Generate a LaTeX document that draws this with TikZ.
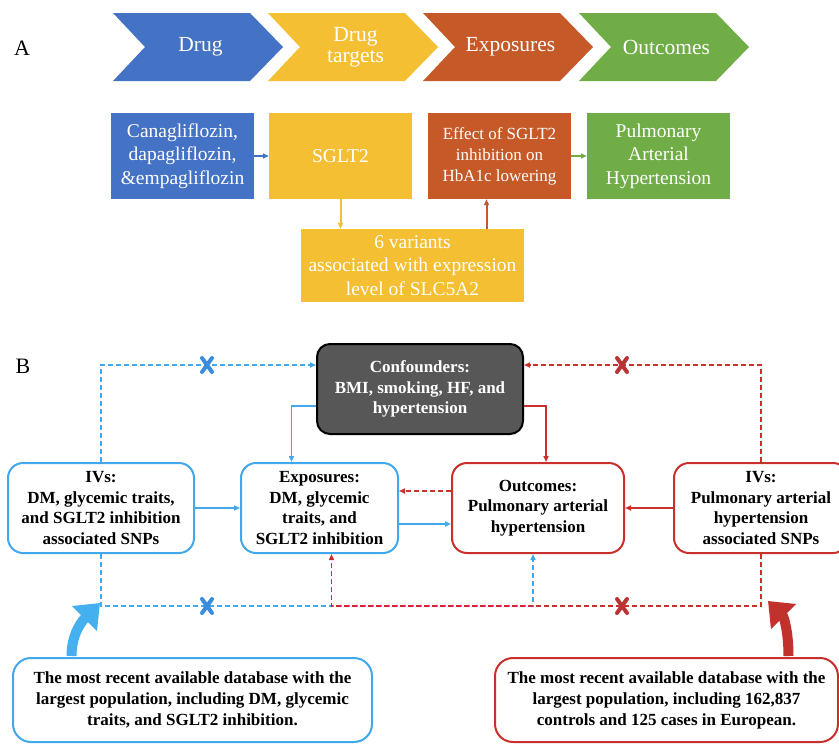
\documentclass[tikz,border=0pt]{standalone}
\usepackage{fontspec}
\setmainfont{Liberation Serif}
\usetikzlibrary{arrows.meta,positioning}
\definecolor{dblue}{HTML}{4472C4}
\definecolor{dyellow}{HTML}{F5BF33}
\definecolor{dorange}{HTML}{C55A28}
\definecolor{dgreen}{HTML}{70AD47}
\definecolor{lblue}{HTML}{41A8EC}
\definecolor{lred}{HTML}{C9302C}
\definecolor{xblue}{HTML}{3B8CDB}
\definecolor{xred}{HTML}{B93535}
\definecolor{cgray}{HTML}{575757}
\definecolor{bigblue}{HTML}{45B0EF}
\definecolor{bigred}{HTML}{C0322B}
\tikzset{
  abox/.style={minimum width=143pt, minimum height=86pt, inner sep=0pt, align=center, text=white,
    font=\fontsize{19.5}{23.5}\selectfont},
  bbox/.style={draw=#1, line width=2pt, rounded corners=15pt, fill=white, minimum height=90pt,
    inner sep=0pt, align=center, font=\fontsize{17}{20.8}\selectfont\bfseries},
  solidarr/.style={draw=#1, line width=1.6pt, -{Triangle[length=6pt,width=5pt]}},
  dasharr/.style={draw=#1, line width=1.6pt, dash pattern=on 5pt off 3pt, -{Triangle[length=6pt,width=5pt]}},
  xmark/.style={draw=#1, line width=4pt, line cap=round},
}
\begin{document}
\begin{tikzpicture}[x=1pt,y=-1pt]
  \useasboundingbox (0,0) rectangle (839,745);
  % A: chevrons
  \node[font=\fontsize{22}{26}\selectfont] (lbla) at (22,48) {A};
  \foreach \x/\col/\txt/\nm in {113/dblue/Drug/chdrug, 268/dyellow/{Drug\\targets}/chtarget,
      423/dorange/Exposures/chexpo, 579/dgreen/Outcomes/chout}{
    \fill[\col] (\x,13) -- ++(137,0) -- ++(33,34) -- ++(-33,34) -- ++(-137,0) -- ++(32,-34) -- cycle;
    \node[align=center, text=white, font=\fontsize{21.5}{21}\selectfont] (\nm) at (\x+87.5,47) {\txt};
  }
  % A: boxes
  \node[abox, fill=dblue] (drugs) at (182.5,156) {Canagliflozin,\\dapagliflozin,\\\&empagliflozin};
  \node[abox, fill=dyellow] (sglt) at (340.5,156) {SGLT2};
  \node[abox, fill=dorange, font=\fontsize{17}{21}\selectfont] (hba) at (499.5,156) {Effect of SGLT2\\inhibition on\\HbA1c lowering};
  \node[abox, fill=dgreen] (pah) at (658.5,156) {Pulmonary\\Arterial\\Hypertension};
  \node[abox, fill=dyellow, minimum width=223pt, minimum height=73pt] (snps) at (412.5,265.5) {6 variants\\associated with expression\\level of SLC5A2};
  \draw[solidarr=dblue, line width=2pt] (drugs) -- (sglt);
  \draw[solidarr=dyellow, line width=2pt] (sglt.south) -- (sglt.south |- snps.north);
  \draw[solidarr=dorange, line width=2pt] ([xshift=-13pt]hba.south |- snps.north) -- ([xshift=-13pt]hba.south);
  \draw[solidarr=dgreen, line width=2pt] (hba) -- (pah);

  % B
  \node[font=\fontsize{22}{26}\selectfont] (lblb) at (23,366) {B};
  \node[draw=black, fill=cgray, line width=2pt, rounded corners=13pt, minimum width=206pt, minimum height=90pt,
    inner sep=0pt, text=white, align=center, font=\fontsize{17}{20.8}\selectfont\bfseries] (conf) at (420,389)
    {Confounders:\\BMI, smoking, HF, and\\hypertension};
  \node[bbox=lblue, minimum width=186pt] (ivl) at (101,508) {IVs:\\DM, glycemic traits,\\and SGLT2 inhibition\\associated SNPs};
  \node[bbox=lblue, minimum width=157pt] (expo) at (319.5,508) {Exposures:\\DM, glycemic\\traits, and\\SGLT2 inhibition};
  \node[bbox=lred, minimum width=172pt] (outc) at (538,508) {Outcomes:\\Pulmonary arterial\\hypertension};
  \node[bbox=lred, minimum width=174pt] (ivr) at (761,508) {IVs:\\Pulmonary arterial\\hypertension\\associated SNPs};
  \node[bbox=lblue, minimum width=359pt, minimum height=84pt, rounded corners=18pt, font=\fontsize{17}{21}\selectfont\bfseries] (dbl) at (192.5,700)
    {The most recent available database with the\\largest population, including DM, glycemic\\traits, and SGLT2 inhibition.};
  \node[bbox=lred, minimum width=343pt, minimum height=84pt, rounded corners=18pt, font=\fontsize{17}{21}\selectfont\bfseries] (dbr) at (666.5,700)
    {The most recent available database with the\\largest population, including 162,837\\controls and 125 cases in European.};

  \coordinate (bot) at (0,606);
  \draw[dasharr=lblue] (ivl.north) |- ([yshift=24pt]conf.west);
  \draw[solidarr=lblue] ([yshift=-17pt]conf.west) -| ([xshift=-28pt]expo.north);
  \draw[solidarr=lblue] (ivl) -- (expo);
  \draw[solidarr=lblue] ([yshift=-16pt]expo.east) -- ([yshift=-16pt]outc.west);
  \draw[dasharr=lblue] (ivl.south) -- (ivl.south |- bot) -| ([xshift=-5pt]outc.south);
  \draw[dasharr=lred] ([yshift=17pt]outc.west) -- ([yshift=17pt]expo.east);
  \draw[solidarr=lred] ([yshift=-17pt]conf.east) -| ([xshift=8pt]outc.north);
  \draw[solidarr=lred] (ivr) -- (outc);
  \draw[dasharr=lred] (ivr.north) |- ([yshift=24pt]conf.east);
  \draw[dasharr=lred] (ivr.south) -- (ivr.south |- bot) -| ([xshift=12pt]expo.south);
  % crossed paths
  \foreach \x/\y/\col in {207/365/xblue, 622/365/xred, 207/606/xblue, 622/606/xred}{
    \draw[xmark=\col] (\x-5,\y-7) -- (\x+5,\y+7) (\x+5,\y-7) -- (\x-5,\y+7);
  }
  % big arrows
  \coordinate (bltip) at (100,603);
  \coordinate (rrtip) at (768,601);
  \draw[bigblue, line width=10pt, -{Triangle[length=22pt,width=34pt]}] ([xshift=-121pt,yshift=1pt]dbl.north) to[out=90,in=-135] (bltip);
  \draw[bigred, line width=10pt, -{Triangle[length=22pt,width=34pt]}] ([xshift=122pt,yshift=1pt]dbr.north) to[out=90,in=-45] (rrtip);
\end{tikzpicture}
\end{document}
